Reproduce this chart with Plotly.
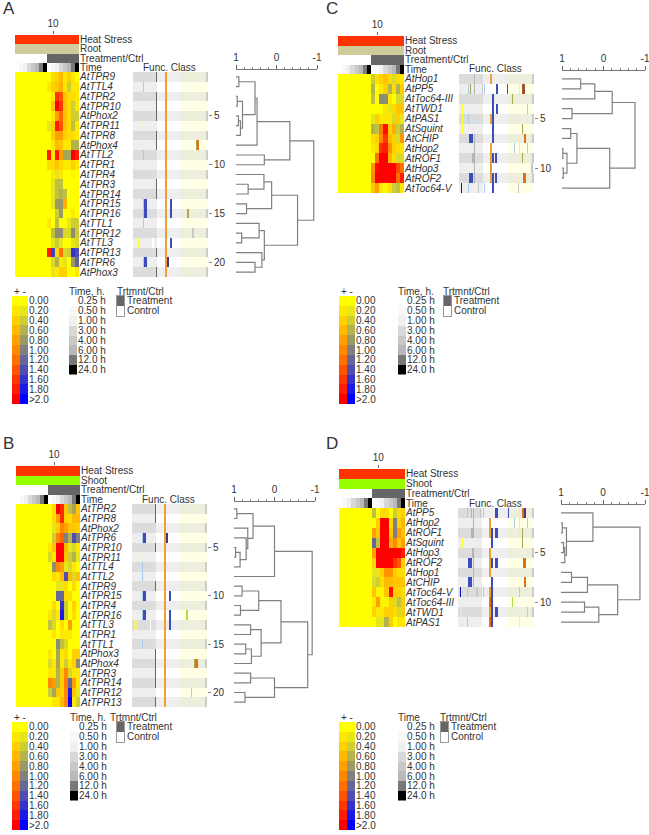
import plotly.graph_objects as go

W, H = 649, 835
FONT = "Liberation Sans"
INK = "#333333"

GENES_A = ["AtTPR9","AtTTL4","AtTPR2","AtTPR10","AtPhox2","AtTPR11","AtTPR8","AtPhox4","AtTTL2","AtTPR1","AtTPR4",
           "AtTPR3","AtTPR14","AtTPR15","AtTPR16","AtTTL1","AtTPR12","AtTTL3","AtTPR13","AtTPR6","AtPhox3"]
GENES_B = ["AtTPR2","AtTPR8","AtPhox2","AtTPR6","AtTPR10","AtTPR11","AtTTL4","AtTTL2","AtTPR9","AtTPR15","AtTPR4",
           "AtTPR16","AtTTL3","AtTPR1","AtTTL1","AtPhox3","AtPhox4","AtTPR3","AtTPR14","AtTPR12","AtTPR13"]
GENES_C = ["AtHop1","AtPP5","AtToc64-III","AtTWD1","AtPAS1","AtSquint","AtCHIP","AtHop2","AtROF1","AtHop3","AtROF2","AtToc64-V"]
GENES_D = ["AtPP5","AtHop2","AtROF1","AtSquint","AtHop3","AtROF2","AtHop1","AtCHIP","AtToc64-V","AtToc64-III","AtTWD1","AtPAS1"]

# Treatment columns (the eight control columns all read 0). + = red side, - = blue side.
HEAT_A = [[0,.3,.4,.6,.2,.4,.2,0],[.2,.4,.5,.7,.2,-.4,.2,.2],[0,.2,1.6,1.4,.5,.3,.3,.2],[0,.5,2,1.6,.5,.3,-.4,.2],
          [0,.2,.8,1.3,.5,.3,-.4,-.4],[-.2,.4,1.8,1.4,.5,.3,-.5,.2],[0,.4,.8,.8,.4,.3,.3,.2],[0,.2,.6,.5,.2,.2,-.6,-.6],
          [1.8,.2,1.8,.8,-.7,-.7,2,1.8],[.3,.3,.5,.3,.2,.2,.4,.2],[0,.2,-.2,.2,0,0,.1,0],[0,-.2,-.5,-.5,0,0,0,0],
          [0,-.2,-.5,-.6,-.5,0,0,0],[0,-.2,-.8,-.8,.7,0,0,0],[0,0,-.4,-.8,0,0,.2,0],[.2,0,-.5,0,0,-.2,-.4,-.4],
          [0,-.5,-.9,-.9,-.3,-.3,-.9,-.4],[0,-.2,-.4,-.2,0,0,-.2,-.3],[1.8,-1.5,.3,1.2,-.3,-.4,-1.6,-1.4],
          [0,-.3,-.6,.2,-.2,0,-.8,-1.2],[0,-.2,.2,.4,.4,0,0,.2]]
HEAT_B = [[0,.3,2,1.7,.5,-.5,-.7,.5],[0,.3,.8,1.7,.4,.3,.6,.6],[0,-.2,.4,1,.8,.5,.5,.4],[0,-.4,1,1.3,-1,-.6,-1.4,-1],
          [.2,.5,2,2,.6,-.2,-.3,.2],[-.3,.2,2,2,.5,-.4,-.6,-.2],[0,-.9,1,.8,-.2,-.3,.2,0],[0,.3,.2,.6,-1.4,.6,-.3,.5],
          [0,0,-.2,-.2,.3,0,.3,0],[0,0,-1.2,-1.2,.3,.3,0,0],[0,.3,0,-1.6,-.4,0,.4,0],[.2,-.3,.2,-1.8,-.4,0,.3,0],
          [-.5,-.3,0,.3,0,.8,0,0],[0,.2,0,.2,.2,.2,0,0],[0,0,-.9,-.5,-.3,0,0,0],[.2,0,-.7,.2,.3,0,.4,.4],
          [-.3,.2,-.7,.2,-.4,.2,.4,-.9],[.2,.2,-.6,.4,1,-.3,.2,.2],[1,.8,-.6,.4,1.1,-1.2,.8,.2],
          [-.4,-.7,.5,.4,1,-1.8,.5,-.2],[0,.2,.2,.6,1,-2,.2,-.4]]
HEAT_C = [[-.4,.3,.4,.5,.3,-.3,.3,.2],[-.6,0,.2,.4,-.6,.3,-.6,.4],[-.5,0,-.9,-.9,.2,0,-.3,-.3],[0,0,0,.2,-.2,.3,.5,.5],
          [-.2,.4,.2,.2,.2,-.3,.4,-.2],[-.6,-.5,1.1,1.9,.4,.7,-.4,-.6],[.3,.4,1,1.6,.6,.4,-.3,.9],[.2,.3,1.7,1.8,.9,.4,.3,.2],
          [0,1.2,2,2,.6,.3,-.3,-.3],[.9,1.9,2,2,2,2,1.5,1.2],[1,2,2,2,2,2,1.2,1.8],[.5,.8,.2,.1,.3,-.4,-.5,.2]]
HEAT_D = [[-.5,0,.3,.3,0,-.4,.3,.4],[0,.4,2,2,.3,-1,.4,.6],[.8,.5,2,2,.5,-1,.8,.5],[-1.2,-.5,2,2,.7,1,.5,.8],
          [.8,2,2,2,2,2,2,1.8],[.4,2,2,2,2,1.6,1.4,.4],[-.2,-.2,.4,.9,.9,.4,.3,.3],[-.3,-.4,.3,.6,.6,.5,.5,.5],
          [.5,.1,.1,.5,1.9,.4,.4,.3],[.2,.8,.1,.1,.4,-.3,-.5,.4],[.4,.2,.2,.4,.4,.3,-.3,.4],[0,-.2,-.2,-.6,.4,0,.2,.2]]

# Functional-class colour keys
CLASS_COLORS = {"dk":"#666666","lb":"#a8ccf0","bl":"#3c4cbc","db":"#1010c0","or":"#f0a030","pu":"#503080","pa":"#f0f0d0",
                "ro":"#e07010","ol":"#a8a850","gy":"#c8c8c8","mg":"#b4b4b4","ye":"#ffff30","wh":"#ffffff","py":"#f0f080",
                "gr":"#b0e040","br":"#a05030"}
# (row, first class column, number of columns, colour key)
MARKS_A = [(r,23,1,"dk") for r in (0,2,3,4,6,7,11,12,18,20)] + [(r,10,1,"lb") for r in (1,8,15)] + \
          [(13,10,1,"lb"),(14,10,1,"lb"),(19,10,1,"lb"),(13,11,3,"bl"),(14,11,3,"bl"),(19,11,3,"bl"),
           (13,37,2,"bl"),(14,37,2,"bl"),(17,37,2,"bl"),(19,34,2,"pu"),(5,9,1,"pa"),(7,63,1,"ol"),(7,64,2,"ro"),
           (14,54,2,"ol"),(16,59,2,"gy"),(17,5,2,"ye"),(17,19,2,"wh")] + [(r,32,2,"or") for r in range(21)]
MARKS_B = [(r,23,1,"dk") for r in (0,1,4,8,15,16,17,18,20)] + [(r,10,1,"lb") for r in (3,6,7,9,11,14)] + \
          [(3,11,3,"bl"),(9,11,3,"bl"),(11,11,3,"bl"),(3,34,2,"pu"),(9,37,2,"bl"),(11,37,2,"bl"),(12,37,2,"bl"),
           (5,8,1,"pa"),(11,54,2,"gr"),(12,2,4,"py"),(12,18,1,"wh"),(16,62,1,"ol"),(16,63,3,"ro"),(19,59,1,"gy")] + \
          [(r,32,2,"or") for r in range(21)]
MARKS_C = [(0,15,1,"mg"),(0,31,2,"or"),(1,9,1,"lb"),(1,11,1,"ol"),(1,15,1,"mg"),(1,23,1,"gy"),(1,25,1,"lb"),(1,37,2,"bl"),
           (1,48,1,"bl"),(1,60,1,"ye"),(1,63,3,"br"),(2,53,1,"ol"),(3,3,1,"ye"),(3,37,2,"bl"),(3,68,1,"gy"),
           (4,3,1,"ye"),(4,9,1,"lb"),(4,60,1,"ye"),(4,31,2,"or"),(5,3,1,"ye"),(5,63,1,"ol"),(6,10,4,"bl"),(6,15,1,"mg"),
           (6,65,2,"ro"),(7,15,1,"mg"),(7,31,2,"or"),(7,55,1,"lb"),(7,60,1,"ye"),(7,68,1,"gy"),(8,13,3,"mg"),(8,31,2,"or"),
           (8,33,2,"bl"),(8,36,2,"bl"),(8,60,1,"ye"),(8,63,1,"ol"),(9,15,1,"mg"),(9,31,2,"or"),(9,72,2,"gy"),(10,10,4,"bl"),
           (10,15,1,"mg"),(10,31,2,"or"),(10,33,2,"bl"),(10,36,2,"bl"),(10,64,3,"ro"),(11,2,1,"db"),(11,9,1,"lb"),(11,19,1,"gy"),
           (11,25,1,"lb"),(11,59,1,"gy")] + [(r,33,2,"bl") for r in (2,3,4,5,6,11)]
MARKS_D = [(0,9,1,"lb"),(0,13,1,"mg"),(0,15,1,"mg"),(0,22,1,"gy"),(0,25,1,"lb"),(0,37,2,"bl"),(0,49,1,"bl"),(0,60,1,"ye"),
           (0,63,2,"ro"),(0,65,2,"pu"),(1,15,1,"mg"),(1,31,2,"or"),(1,55,1,"lb"),(1,60,1,"ye"),(1,68,1,"gy"),(2,13,3,"mg"),
           (2,31,2,"or"),(2,33,2,"bl"),(2,37,2,"bl"),(2,60,1,"ye"),(2,63,1,"ol"),(3,3,2,"ye"),(3,33,2,"bl"),(3,63,1,"ol"),
           (4,14,2,"mg"),(4,31,2,"or"),(4,73,2,"gy"),(5,10,4,"bl"),(5,15,1,"mg"),(5,31,2,"or"),(5,33,2,"bl"),(5,37,2,"bl"),
           (5,64,3,"ro"),(6,15,1,"mg"),(6,31,2,"or"),(7,10,4,"bl"),(7,15,1,"mg"),(7,33,2,"bl"),(7,65,2,"ro"),(8,2,1,"db"),
           (8,9,1,"lb"),(8,18,2,"gy"),(8,25,1,"lb"),(8,31,2,"or"),(8,33,2,"bl"),(8,60,1,"gy"),(9,31,2,"ro"),(9,33,2,"bl"),
           (9,53,1,"gr"),(10,3,1,"ye"),(10,31,2,"or"),(10,33,2,"bl"),(10,37,2,"bl"),(10,68,1,"gy"),(11,3,1,"ye"),(11,9,1,"lb"),
           (11,31,2,"ro"),(11,33,2,"bl"),(11,60,1,"ye")]

# Dendrograms: (merge value, left, right); integers are rows
TREE_A = (-.92, (-.33, (.48, (.53, (.93,0,1), (.84, (.97,2,3), (.89, (.94,4,5), 6))), 7), (.30,8,9)),
          (-.52, (.12, (.31,10,(.70,11,12)), (.74,13,14)), (.30, (.43,15,(.86,16,17)), (.36,18,(.53,19,20)))))
TREE_B = (-.93, (0, (.53, (.93,0,1), (.66, 2, (.70, 3, (.85, (.96,4,5), 6)))), 7),
          (-.82, (-.16, (.39, (.80,8,9), (.84,10,11)), (.33, (.59,12,13), (.57, (.71,14,15), 16))),
           (0, (.59,17,18), (.73,19,20))))
TREE_C = (-.76, (-.21, (.21, (.55,0,1), 2), (.76,3,4)), (-.15, (.64, (.79,5,6), (.88, (.98,7,8), (.97,9,10))), 11))
TREE_D = (-.88, (.24, 0, (.87, (.97,1,2), (.91, (.94,3,4), 5))), (-.35, (.37, (.75,6,7), 8), (.10, (.44,9,10), 11)))

LEVELS = [0,.2,.4,.6,.8,1,1.2,1.4,1.6,1.8,2]
LEVEL_LABELS = ["0.00","0.20","0.40","0.60","0.80","1.00","1.20","1.40","1.60","1.80",">2.0"]
TIME_LABELS = ["0.25 h","0.50 h","1.00 h","3.00 h","4.00 h","6.00 h","12.0 h","24.0 h"]
TIME_COLORS = ["#ffffff","#f8f8f8","#f0f0f0","#d8d8d8","#c8c8c8","#b8b8b8","#787878","#000000"]
TREAT_LABELS = ["Treatment","Control"]

HEAT_SCALE = [[0,"#0000ff"],[.25,"#808080"],[.45,"#e6e61a"],[.5,"#ffff00"],[.55,"#ffe800"],[.6,"#ffd000"],[.65,"#ffba00"],
              [.7,"#ffa000"],[.75,"#ff8800"],[.8,"#ff7000"],[.85,"#ff5500"],[.9,"#ff3800"],[.95,"#ff1c00"],[1,"#ff0000"]]

fig = go.Figure()
axis_no = [0]
tf = dict(family=FONT, size=10, color=INK)

def discrete(colors):
    n = len(colors)
    out = []
    for i, c in enumerate(colors):
        out += [[i / n, c], [(i + 1) / n, c]]
    return out

def axes(x0, y0, x1, y1, xa=None, ya=None):
    axis_no[0] += 1
    k = axis_no[0]
    xa = dict(dict(visible=False), **(xa or {}))
    ya = dict(dict(visible=False), **(ya or {}))
    fig.update_layout({f"xaxis{k}": dict(domain=[x0 / W, x1 / W], anchor=f"y{k}", **xa),
                       f"yaxis{k}": dict(domain=[1 - y1 / H, 1 - y0 / H], anchor=f"x{k}", **ya)})
    return f"x{k}", f"y{k}"

def txt(x, y, s, size=10, xanchor="left"):
    fig.add_annotation(x=x / W, y=1 - y / H, xref="paper", yref="paper", text=s, showarrow=False, xanchor=xanchor,
                       yanchor="middle", font=dict(family=FONT, size=size, color=INK), borderpad=0, borderwidth=0)

def right_labels(n, labels, **extra):
    d = dict(visible=True, side="right", range=[n + .5, .5], tickmode="array", tickvals=list(range(1, n + 1)),
             ticktext=labels, ticks="", showgrid=False, zeroline=False, showline=False, tickfont=tf)
    d.update(extra)
    return d

def segments(node, xs, ys):
    if isinstance(node, int):
        return node + 1, 1.0
    v, a, b = node
    ya, va = segments(a, xs, ys)
    yb, vb = segments(b, xs, ys)
    xs += [va, v, v, vb, None]
    ys += [ya, ya, yb, yb, None]
    return (ya + yb) / 2, v

def panel(letter, lx, ly, hx0, hx1, htop, hbot, top, organ, fx0, fx1, dx0, dx1, dy, genes, heat, marks, tree, z4, ticks):
    n = len(genes)
    txt(lx, ly, letter, 17)
    palette = TIME_COLORS + ["#ff3300", "#cfcb9a", "#95ff00", "#666666"]
    organ_code = 9 if organ == "Root" else 10
    z = [[8] * 16, [organ_code] * 16, [0] * 8 + [11] * 8, list(range(8)) * 2]
    xa = dict(visible=True, side="top", range=[.5, 16.5], tickmode="array", tickvals=[10], ticktext=["10"], ticks="outside",
              ticklen=3, tickcolor="#666666", showgrid=False, zeroline=False, showline=False, tickfont=tf)
    x, y = axes(hx0, top, hx1, htop, xa, right_labels(4, ["Heat Stress", organ, "Treatment/Ctrl", "Time"]))
    fig.add_trace(go.Heatmap(z=z, x=list(range(1, 17)), y=[1, 2, 3, 4], xaxis=x, yaxis=y, zmin=0, zmax=12, colorscale=discrete(palette),
                             showscale=False, hoverinfo="skip"))
    x, y = axes(hx0, htop, hx1, hbot, dict(range=[.5, 16.5]), right_labels(n, [f"<i>{g}</i>" for g in genes]))
    fig.add_trace(go.Heatmap(z=[[0] * 8 + r for r in heat], x=list(range(1, 17)), y=list(range(1, n + 1)), xaxis=x, yaxis=y, zmin=-2, zmax=2,
                             colorscale=HEAT_SCALE, showscale=False, hoverinfo="skip"))
    base = [["#dcdcdc", "#eeeeee", "#eeeeee", "#eeeedc", "#cccccc"], ["#eeeeee", "#ffffff", "#ffffff", "#ffffe6", "#ffffe6"]]
    keys = list(CLASS_COLORS)
    fpal = [c for b in base for c in b] + [CLASS_COLORS[k] for k in keys]
    zones = [(0, 24), (24, 33), (33, z4), (z4, 73), (73, 75)]
    fz = []
    for r in range(n):
        row = []
        for zi, (a, b) in enumerate(zones):
            row += [(r % 2) * 5 + zi] * (b - a)
        fz.append(row)
    for r, c, w, k in marks:
        for i in range(c, c + w):
            fz[r][i] = 10 + keys.index(k)
    ya = dict(visible=True, side="right", range=[n + .5, .5], tickmode="array", tickvals=ticks, ticktext=[str(t) for t in ticks],
              ticks="outside", ticklen=3, tickcolor="#888888", showgrid=False, zeroline=False, showline=False, tickfont=tf)
    x, y = axes(fx0, htop, fx1, hbot, dict(range=[-.5, 74.5]), ya)
    fig.add_trace(go.Heatmap(z=fz, x=list(range(75)), y=list(range(1, n + 1)), xaxis=x, yaxis=y, zmin=0, zmax=len(fpal),
                             colorscale=discrete(fpal), showscale=False, hoverinfo="skip"))
    txt((fx0 + fx1) / 2 - 1, htop - 5, "Func. Class", 10, "center")
    xs, ys = [], []
    segments(tree, xs, ys)
    rowh = (hbot - htop) / n
    xa = dict(visible=True, side="top", range=[1, -1], tickmode="array", tickvals=[1, 0, -1], ticktext=["1", "0", "-1"], ticks="outside",
              ticklen=4, tickcolor="#666666", showgrid=False, zeroline=False, showline=True, linecolor="#777777", linewidth=1, tickfont=tf,
              ticklabeloverflow="allow",
              minor=dict(tickmode="array", tickvals=[.8, .6, .4, .2, -.2, -.4, -.6, -.8], ticks="outside", ticklen=2, tickcolor="#888888"))
    ya = dict(range=[n + .5, .5 - (htop - dy) / rowh])
    x, y = axes(dx0, dy, dx1, hbot, xa, ya)
    fig.add_trace(go.Scatter(x=xs, y=ys, mode="lines", xaxis=x, yaxis=y, line=dict(color="#808080", width=1.2), hoverinfo="skip",
                             cliponaxis=False, showlegend=False))

def legends(bx, by, tx, tname, sx, sheadx):
    rowh = 9.82
    txt(bx + 2, by - 5, "+ -", 10)
    x, y = axes(bx, by, bx + 16, by + 11 * rowh, dict(range=[-.5, 1.5]), right_labels(11, LEVEL_LABELS))
    fig.add_trace(go.Heatmap(z=[[v, -v] for v in LEVELS], x=[0, 1], y=list(range(1, 12)), xaxis=x, yaxis=y, zmin=-2, zmax=2, colorscale=HEAT_SCALE,
                             showscale=False, hoverinfo="skip"))
    txt(tx, by - 5, tname, 10)
    x, y = axes(tx, by, tx + 8, by + 8 * rowh, dict(range=[-.5, .5]), right_labels(8, TIME_LABELS))
    fig.add_trace(go.Heatmap(z=[[i] for i in range(8)], x=[0], y=list(range(1, 9)), xaxis=x, yaxis=y, zmin=0, zmax=8, colorscale=discrete(TIME_COLORS),
                             showscale=False, hoverinfo="skip"))
    txt(sheadx, by - 5, "Trtmnt/Ctrl", 10)
    box = dict(showline=True, mirror=True, linecolor="#999999", linewidth=1)
    xbox = dict(visible=True, range=[-.5, .5], showticklabels=False, ticks="", showgrid=False, zeroline=False, **box)
    x, y = axes(sx, by, sx + 7, by + 2 * rowh, xbox, right_labels(2, TREAT_LABELS, **box))
    fig.add_trace(go.Heatmap(z=[[1], [0]], x=[0], y=[1, 2], xaxis=x, yaxis=y, zmin=0, zmax=2, colorscale=discrete(["#ffffff", "#666666"]),
                             showscale=False, hoverinfo="skip"))

panel("A", 3, 9, 15, 79, 72, 277, 35, "Root", 133, 208, 236, 317, 70, GENES_A, HEAT_A, MARKS_A, TREE_A, 48, [5, 10, 15, 20])
panel("B", 3, 443, 16, 80, 504, 707, 466, "Shoot", 132, 207, 234, 315, 502, GENES_B, HEAT_B, MARKS_B, TREE_B, 48, [5, 10, 15, 20])
panel("C", 326, 9, 338, 404, 74, 193, 36, "Root", 459, 534, 562, 645, 71, GENES_C, HEAT_C, MARKS_C, TREE_C, 48, [5, 10])
panel("D", 326, 443, 339, 405, 508, 627, 469, "Shoot", 458, 534, 561, 645, 505, GENES_D, HEAT_D, MARKS_D, TREE_D, 48, [5, 10])
legends(12, 296, 69, "Time, h.", 117, 117)
legends(12, 722, 70, "Time, h.", 117, 110)
legends(339, 296, 398, "Time, h.", 444, 443)
legends(339, 722, 398, "Time", 441, 440)

fig.update_layout(width=W, height=H, margin=dict(l=0, r=0, t=0, b=0, autoexpand=False), paper_bgcolor="white", plot_bgcolor="white",
                  showlegend=False, font=dict(family=FONT, size=10, color=INK))
fig.write_html("out.html", config=dict(displayModeBar=False), post_script="document.body.style.margin='0';")
